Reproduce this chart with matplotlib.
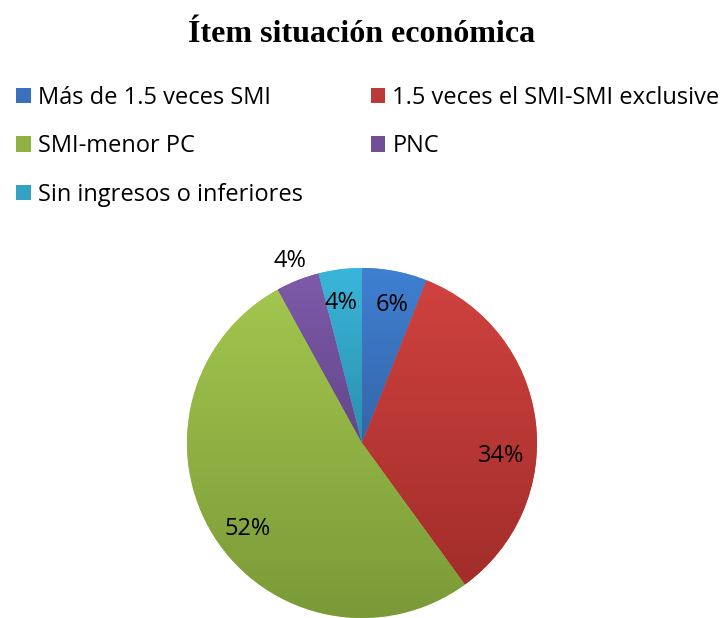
import numpy as np
import matplotlib
matplotlib.use("Agg")
import matplotlib.pyplot as plt
from matplotlib.patches import Patch
from matplotlib.colors import to_rgb

title = "Ítem situación económica"
categories = ["Más de 1.5 veces SMI", "1.5 veces el SMI-SMI exclusive",
              "SMI-menor PC", "PNC", "Sin ingresos o inferiores"]
values = [6, 34, 52, 4, 4]
labels = ["6%", "34%", "52%", "4%", "4%"]
top_colors = ["#3f80d2", "#cf423f", "#a2c64e", "#7e5aaa", "#3ab6da"]
bottom_colors = ["#3565a8", "#a22d2a", "#7a9a38", "#634689", "#2b8fae"]
legend_colors = ["#3a70bc", "#b93a37", "#90b244", "#714f98", "#34a2c4"]
label_dist = [0.81, 0.80, 0.82, 1.12, 0.81]
label_shift = [-1.5, -12.5, 4.5, 0.0, 1.5]

W, H = 722, 618
fig = plt.figure(figsize=(W / 100, H / 100), dpi=100)
fig.patch.set_facecolor("white")

cx, cy, R = 362, 443, 175
ax = fig.add_axes([(cx - R) / W, (H - cy - R) / H, 2 * R / W, 2 * R / H])
ax.set_xlim(-1, 1)
ax.set_ylim(-1, 1)
ax.axis("off")

wedges, _ = ax.pie(values, startangle=90, counterclock=False, radius=1,
                   colors=top_colors, wedgeprops=dict(linewidth=0))

for w, c0, c1 in zip(wedges, top_colors, bottom_colors):
    bb = w.get_path().get_extents()
    t = np.linspace(0, 1, 256)[:, None, None]
    grad = (1 - t) * np.array(to_rgb(c0))[None, None, :] + t * np.array(to_rgb(c1))[None, None, :]
    im = ax.imshow(grad, extent=[bb.x0, bb.x1, bb.y0, bb.y1], origin="upper",
                   aspect="auto", interpolation="bilinear", zorder=2)
    im.set_clip_path(w)

ax.set_xlim(-1, 1)
ax.set_ylim(-1, 1)
ax.set_aspect("equal")

total = sum(values)
cum = 0
for v, lab, d, s in zip(values, labels, label_dist, label_shift):
    mid = 90 - 360 * (cum + v / 2) / total + s
    cum += v
    a = np.deg2rad(mid)
    ax.text(d * np.cos(a), d * np.sin(a), lab, ha="center", va="center",
            fontsize=17, family="Open Sans", color="black", zorder=5)

fig.text(cx / W, 1 - 35 / H, title, ha="center", va="center",
         fontsize=23, fontweight="bold", family="Liberation Serif")

handles = [Patch(facecolor=c, edgecolor="none") for c in legend_colors]
order = [0, 2, 4, 1, 3]
leg = fig.legend([handles[i] for i in order], [categories[i] for i in order],
                 ncol=2, loc="upper left", bbox_to_anchor=(16 / W, 1 - 86 / H),
                 frameon=False, prop=dict(family="Open Sans", size=17),
                 handlelength=0.62, handleheight=0.62, handletextpad=0.3,
                 labelspacing=1.03, columnspacing=2.88, borderaxespad=0, borderpad=0)

fig.savefig("out.png", dpi=100, facecolor="white")
